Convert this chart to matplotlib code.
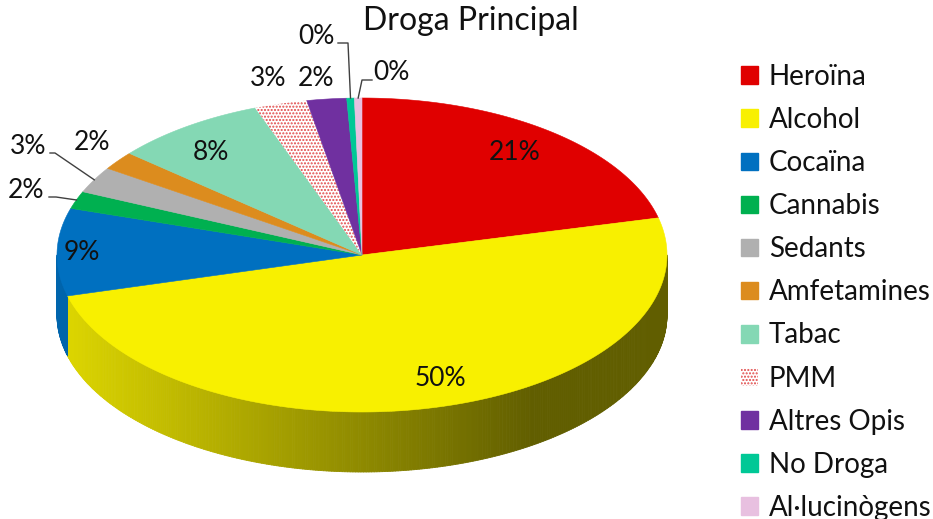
import matplotlib.pyplot as plt
import numpy as np
from matplotlib.patches import Polygon, Patch
from matplotlib.collections import PolyCollection
from matplotlib.colors import to_rgb

plt.rcParams['font.family'] = ['Lato', 'DejaVu Sans']

drugs = ['Heroïna', 'Alcohol', 'Cocaïna', 'Cannabis', 'Sedants', 'Amfetamines',
         'Tabac', 'PMM', 'Altres Opis', 'No Droga', 'Al·lucinògens']
share = [21.2, 49.6, 9.0, 1.8, 2.7, 1.9, 8.1, 2.8, 2.1, 0.4, 0.4]
colors = ['#e00000', '#f8f000', '#0070c0', '#00b050', '#b0b0b0', '#dc8c1e',
          '#84d8b4', '#ffffff', '#7030a0', '#00c896', '#e8c0e0']

# label anchor points (pixels) and leader elbows for the small outside slices
label_xy = [(515, 152), (440, 378), (82, 252), (26, 190), (28, 147), (92, 143),
            (211, 153), (268, 78), (316, 78), (316, 37), (391, 72)]
leaders = {3: [(49, 197), (56, 197)], 4: [(50, 153), (55, 153)],
           9: [(338, 43), (348, 43)], 10: [(372, 80), (362, 80)]}

# pie ellipse in pixel space
cx, cy, rx, ry, depth = 362, 255, 305, 157, 60


def ell(t, r=1.0, dy=0.0):
    t = np.radians(t)
    return cx + r * rx * np.cos(t), cy - r * ry * np.sin(t) + dy


def shade(x):
    # side wall gets darker from left to right
    u = (x - (cx - rx)) / (2 * rx)
    return np.clip(0.9 - 0.65 * u, 0.39, 1.0)


W, H = 933, 519
fig = plt.figure(figsize=(W / 100, H / 100), dpi=100)
ax = fig.add_axes([0, 0, 1, 1])
ax.set_xlim(0, W)
ax.set_ylim(H, 0)
ax.axis('off')

vals = np.array(share)
frac = vals / vals.sum()
cum = np.cumsum(frac)
start = 90 - 360 * (cum - frac)
end = 90 - 360 * cum

# front side walls
quads, qcols = [], []
for i in range(len(vals)):
    lo, hi = max(end[i], -180), min(start[i], 0)
    if lo >= hi:
        continue
    ts = np.linspace(lo, hi, int(hi - lo) * 2 + 2)
    base = np.array(to_rgb(colors[i]))
    for a, b in zip(ts[:-1], ts[1:]):
        x1, y1 = ell(a)
        x2, y2 = ell(b)
        quads.append([(x1, y1), (x2, y2), (x2, y2 + depth), (x1, y1 + depth)])
        qcols.append(base * shade((x1 + x2) / 2))
ax.add_collection(PolyCollection(quads, facecolors=qcols, edgecolors=qcols,
                                 linewidths=0.6))

# top faces
for i in range(len(vals)):
    ts = np.linspace(end[i], start[i], max(int(start[i] - end[i]) * 2, 4))
    xs, ys = ell(ts)
    pts = [(cx, cy)] + list(zip(xs, ys))
    if drugs[i] == 'PMM':
        ax.add_patch(Polygon(pts, closed=True, facecolor='white',
                             edgecolor='#e04848', hatch='.....', lw=0))
    else:
        ax.add_patch(Polygon(pts, closed=True, facecolor=colors[i],
                             edgecolor=colors[i], lw=0.4))

# percentage labels
for i, (x, y) in enumerate(label_xy):
    ax.text(x, y, f'{frac[i] * 100:.0f}%', ha='center', va='center',
            fontsize=19, color='#111111')
    if i in leaders:
        mid = (start[i] + end[i]) / 2
        ex, ey = ell(mid)
        pts = leaders[i] + [(ex, ey)]
        ax.plot([p[0] for p in pts], [p[1] for p in pts], color='#404040', lw=1)

ax.text(471, 21, 'Droga Principal', ha='center', va='center', fontsize=23,
        color='#111111')

handles = []
for d, c in zip(drugs, colors):
    if d == 'PMM':
        handles.append(Patch(facecolor='white', edgecolor='#e04848',
                             hatch='.....', lw=0))
    else:
        handles.append(Patch(facecolor=c, edgecolor=c))
fig.legend(handles, drugs, loc='upper left', bbox_to_anchor=(741 / W, 1 - 64 / H),
           frameon=False, fontsize=20, handlelength=0.6, handleheight=0.6,
           handletextpad=0.4, labelspacing=0.615, borderpad=0, borderaxespad=0,
           labelcolor='#111111')

fig.savefig('out.png', dpi=100)
